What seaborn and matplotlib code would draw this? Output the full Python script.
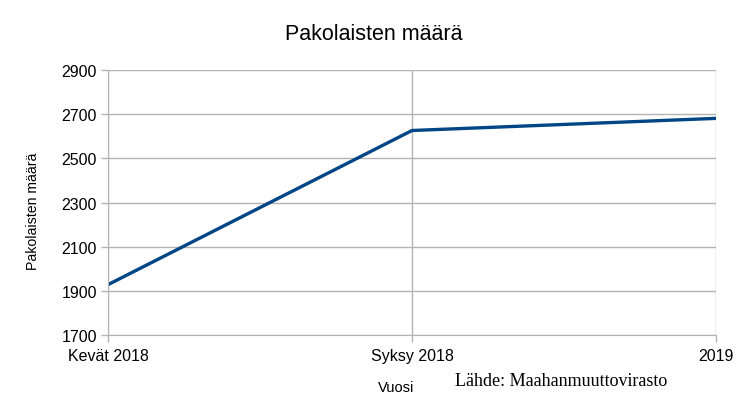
import matplotlib
matplotlib.use("Agg")
import matplotlib.pyplot as plt
import seaborn as sns
import pandas as pd

# data
kaudet = ["Kevät 2018", "Syksy 2018", "2019"]
pakolaiset = [1928, 2626, 2681]
y_ticks = [1700, 1900, 2100, 2300, 2500, 2700, 2900]

df = pd.DataFrame({"Vuosi": kaudet, "Pakolaisten määrä": pakolaiset})

sns.set_style("whitegrid")
plt.rcParams['font.family'] = ['Liberation Sans', 'DejaVu Sans']
plt.rcParams['text.color'] = 'black'
plt.rcParams['axes.labelcolor'] = 'black'

fig = plt.figure(figsize=(7.39, 4.14), dpi=100)
ax = fig.add_axes([0.1461, 0.1884, 0.8228, 0.6401])

sns.lineplot(data=df, x="Vuosi", y="Pakolaisten määrä", ax=ax,
             color="#004586", linewidth=2.4, sort=False)

ax.set_xlim(0, len(kaudet) - 1)
ax.set_ylim(y_ticks[0], y_ticks[-1])
ax.set_yticks(y_ticks)
ax.set_xticks(range(len(kaudet)))
ax.set_xticklabels(kaudet)

grid_c = "#b3b3b3"
ax.grid(True, color=grid_c, linewidth=1)
for s in ax.spines.values():
    s.set_visible(False)
ax.spines["left"].set_visible(True)
ax.spines["left"].set_color(grid_c)
ax.spines["bottom"].set_visible(True)
ax.spines["bottom"].set_color(grid_c)
ax.tick_params(axis="both", length=5, width=1, color=grid_c, labelsize=11.5,
               labelcolor="black", direction="out", left=True, bottom=True)
ax.tick_params(axis="y", pad=3)
ax.tick_params(axis="x", pad=4)

# title is centred on the figure, not the axes
fig.text(374 / 739, 1 - 35 / 414, "Pakolaisten määrä", fontsize=15.5,
         ha="center", va="center", color="black")
ax.set_ylabel("Pakolaisten määrä", fontsize=10.2)
ax.yaxis.set_label_coords((40 - 108) / 608, 0.47)
ax.set_xlabel("Vuosi", fontsize=10.5)
ax.xaxis.set_label_coords((396 - 108) / 608, -0.17)

fig.text(455 / 739, 1 - 382 / 414, "Lähde: Maahanmuuttovirasto",
         family=["Liberation Serif", "DejaVu Serif"], fontsize=13,
         ha="left", va="center", color="black")

plt.savefig("out.png", dpi=100)
plt.close()
